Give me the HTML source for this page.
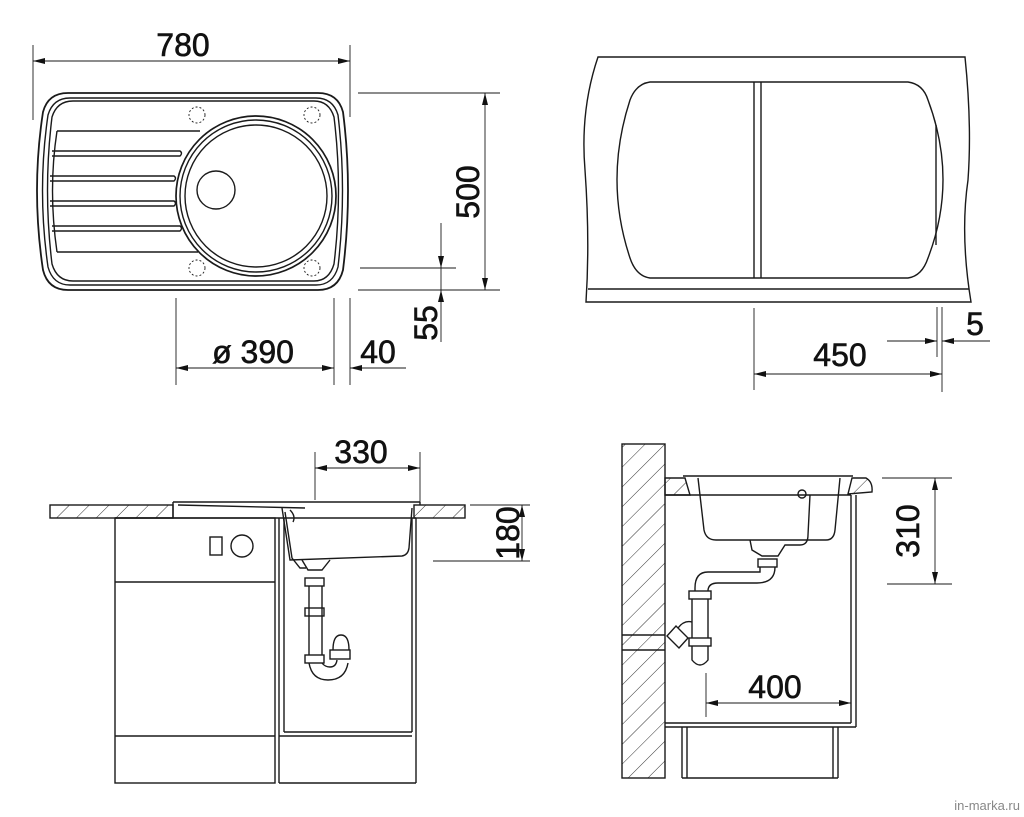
<!DOCTYPE html>
<html><head><meta charset="utf-8"><style>
html,body{margin:0;padding:0;background:#fff}
svg{display:block}
text{font-family:"Liberation Sans",Arial,sans-serif;fill:#111}
</style></head><body>
<svg width="1024" height="817" viewBox="0 0 1024 817" xmlns="http://www.w3.org/2000/svg">
<defs>
<pattern id="h" width="14" height="14" patternUnits="userSpaceOnUse" patternTransform="rotate(45)">
<line x1="0" y1="0" x2="0" y2="14" stroke="#333" stroke-width="1"/>
</pattern>
<marker id="a" markerWidth="12" markerHeight="6" refX="12" refY="3" orient="auto" markerUnits="userSpaceOnUse">
<path d="M0,0 L12,3 L0,6 Z" fill="#111"/>
</marker>
<marker id="b" markerWidth="12" markerHeight="6" refX="0" refY="3" orient="auto" markerUnits="userSpaceOnUse">
<path d="M12,0 L0,3 L12,6 Z" fill="#111"/>
</marker>
</defs>
<g fill="none" stroke="#1a1a1a" stroke-width="1.4">
<!-- ===== TOP LEFT ===== -->
<line x1="33" y1="45" x2="33" y2="120" stroke-width="0.9"/>
<line x1="350" y1="45" x2="350" y2="117" stroke-width="0.9"/>
<line x1="33" y1="61" x2="350" y2="61" stroke-width="0.9" marker-start="url(#b)" marker-end="url(#a)"/>
<path d="M68,93 L318,93 Q338,93 343,112 Q353,190 343,270 Q338,290 318,290 L68,290 Q48,290 43,270 Q31,190 43,112 Q48,93 68,93 Z" stroke-width="1.8"/>
<path d="M70,98 L316,98 Q333,98 338,115 Q347,190 338,267 Q333,285 316,285 L70,285 Q53,285 48,267 Q37,190 48,115 Q53,98 70,98 Z"/>
<path d="M73,101 L314,101 Q329,101 334,117 Q343,190 334,264 Q329,281 314,281 L73,281 Q57,281 52,264 Q43,190 52,117 Q57,101 73,101 Z"/>
<line x1="57" y1="131" x2="200" y2="131"/>
<line x1="57" y1="252" x2="198" y2="252"/>
<path d="M57,131 Q48,190 57,252"/>
<path d="M52,151 L180,151 Q183,153 180,156 L52,156"/>
<path d="M50,176 L174,176 Q177,178 174,181 L50,181"/>
<path d="M50,201 L174,201 Q177,203 174,206 L50,206"/>
<path d="M52,226 L180,226 Q183,228 180,231 L52,231"/>
<circle cx="256" cy="196" r="80" stroke-width="1.7"/>
<circle cx="256" cy="196" r="76"/>
<circle cx="256" cy="196" r="71"/>
<circle cx="216" cy="190" r="19"/>
<g stroke-dasharray="2,2" stroke-width="0.9">
<circle cx="197" cy="115" r="8"/><circle cx="312" cy="115" r="8"/>
<circle cx="197" cy="268" r="8"/><circle cx="312" cy="268" r="8"/>
</g>
<g stroke-width="0.9">
<line x1="358" y1="93" x2="500" y2="93"/>
<line x1="358" y1="290" x2="500" y2="290"/>
<line x1="485" y1="93" x2="485" y2="290" marker-start="url(#b)" marker-end="url(#a)"/>
<line x1="360" y1="268" x2="456" y2="268"/>
<line x1="441" y1="223" x2="441" y2="268" marker-end="url(#a)"/>
<line x1="441" y1="268" x2="441" y2="290"/>
<line x1="441" y1="342" x2="441" y2="290" marker-end="url(#a)"/>
<line x1="176" y1="298" x2="176" y2="385"/>
<line x1="334" y1="298" x2="334" y2="385"/>
<line x1="350" y1="298" x2="350" y2="385"/>
<line x1="176" y1="368" x2="334" y2="368" marker-start="url(#b)" marker-end="url(#a)"/>
<line x1="406" y1="368" x2="350" y2="368" marker-end="url(#a)"/>
</g>
<!-- ===== TOP RIGHT ===== -->
<path d="M598,57 L965,57 Q972,125 968,180 Q960,235 971,302 L586,302 Q590,240 585,170 Q580,110 598,57 Z" stroke-width="1.4"/>
<line x1="588" y1="289" x2="969" y2="289"/>
<path d="M650,82 L908,82 Q923,84 928,100 Q958,180 928,258 Q922,276 908,278 L650,278 Q636,276 630,258 Q604,180 630,100 Q636,84 650,82 Z"/>
<line x1="936" y1="125" x2="936" y2="245"/>
<line x1="754" y1="82" x2="754" y2="278"/>
<line x1="761" y1="82" x2="761" y2="278"/>
<g stroke-width="0.9">
<line x1="754" y1="308" x2="754" y2="390"/>
<line x1="937" y1="307" x2="937" y2="357"/>
<line x1="942" y1="307" x2="942" y2="392"/>
<line x1="754" y1="374" x2="942" y2="374" marker-start="url(#b)" marker-end="url(#a)"/>
<line x1="887" y1="341" x2="937" y2="341" marker-end="url(#a)"/>
<line x1="990" y1="341" x2="942" y2="341" marker-end="url(#a)"/>
</g>
<!-- ===== BOTTOM LEFT ===== -->
<g stroke-width="0.9">
<line x1="315" y1="452" x2="315" y2="500"/>
<line x1="420" y1="452" x2="420" y2="503"/>
<line x1="315" y1="468" x2="420" y2="468" marker-start="url(#b)" marker-end="url(#a)"/>
<line x1="470" y1="505" x2="530" y2="505"/>
<line x1="433" y1="561" x2="530" y2="561"/>
<line x1="522" y1="505" x2="522" y2="561" marker-start="url(#b)" marker-end="url(#a)"/>
</g>
<rect x="50" y="505" width="123" height="13" fill="url(#h)"/>
<rect x="414" y="505" width="51" height="13" fill="url(#h)"/>
<line x1="173" y1="502" x2="420" y2="502"/>
<line x1="173" y1="502" x2="173" y2="518"/>
<line x1="420" y1="502" x2="420" y2="505"/>
<path d="M178,505 L305,508"/>
<line x1="115" y1="518" x2="416" y2="518"/>
<rect x="115" y="518" width="160" height="265"/>
<line x1="115" y1="582" x2="275" y2="582"/>
<line x1="115" y1="736" x2="275" y2="736"/>
<rect x="210" y="537" width="12" height="18"/>
<circle cx="242" cy="546" r="11"/>
<line x1="279" y1="518" x2="279" y2="783"/>
<line x1="284" y1="518" x2="284" y2="732"/>
<line x1="412" y1="518" x2="412" y2="732"/>
<line x1="416" y1="518" x2="416" y2="783"/>
<line x1="279" y1="783" x2="416" y2="783"/>
<line x1="284" y1="732" x2="412" y2="732"/>
<line x1="279" y1="736" x2="412" y2="736"/>
<path d="M282,508 L290,560 L402,556 Q408,555 409,548 L412,508"/>
<path d="M285,512 L292,558 L300,568 L306,568"/>
<path d="M290,510 Q296,516 293,522"/>
<path d="M302,560 L308,570 L322,570 L330,560"/>
<rect x="305" y="578" width="19" height="8"/>
<rect x="305" y="608" width="19" height="8"/>
<rect x="305" y="655" width="19" height="8"/>
<line x1="309" y1="586" x2="309" y2="655"/>
<line x1="322" y1="586" x2="322" y2="655"/>
<path d="M309,663 Q312,680 328,680 Q345,680 348,663"/>
<path d="M322,663 Q325,667 330,667 Q336,667 337,660"/>
<rect x="330" y="650" width="20" height="9"/>
<path d="M333,650 Q333,635 341,635 Q349,635 349,650"/>
<!-- ===== BOTTOM RIGHT ===== -->
<rect x="622" y="444" width="43" height="334" fill="url(#h)"/>
<line x1="622" y1="635" x2="665" y2="635"/>
<line x1="622" y1="650" x2="665" y2="650"/>
<path d="M665,478 L685,478 L690,495 L665,495 Z" fill="url(#h)"/>
<path d="M852,478 L866,478 Q873,482 872,492 L848,494 Z" fill="url(#h)"/>
<line x1="683" y1="476" x2="853" y2="476"/>
<line x1="665" y1="495" x2="851" y2="495"/>
<line x1="856" y1="495" x2="856" y2="727"/>
<line x1="851" y1="495" x2="851" y2="723"/>
<line x1="665" y1="723" x2="851" y2="723"/>
<line x1="665" y1="727" x2="856" y2="727"/>
<line x1="682" y1="727" x2="682" y2="778"/>
<line x1="687" y1="727" x2="687" y2="778"/>
<line x1="833" y1="727" x2="833" y2="778"/>
<line x1="838" y1="727" x2="838" y2="778"/>
<line x1="682" y1="778" x2="838" y2="778"/>
<path d="M698,478 L704,530 Q706,540 716,540 L826,540 Q834,540 835,530 L840,478"/>
<path d="M750,540 L752,550 L762,556 L778,556 L785,545 L800,545 Q808,545 808,535 L810,495"/>
<circle cx="802" cy="494" r="4"/>
<rect x="758" y="559" width="19" height="8"/>
<path d="M760,567 L760,572 L708,572 Q695,572 695,588 L695,591"/>
<path d="M775,567 Q775,583 757,583 L718,583 Q708,583 708,591"/>
<rect x="689" y="591" width="22" height="8"/>
<rect x="689" y="638" width="22" height="8"/>
<line x1="692" y1="599" x2="692" y2="638"/>
<line x1="708" y1="599" x2="708" y2="638"/>
<path d="M692,646 L692,660 Q700,670 708,660 L708,646"/>
<path d="M667,636 L676,626 L688,638 L679,648 Z"/>
<path d="M678,628 Q684,620 692,622"/>
<g stroke-width="0.9">
<line x1="882" y1="478" x2="952" y2="478"/>
<line x1="887" y1="584" x2="952" y2="584"/>
<line x1="935" y1="478" x2="935" y2="584" marker-start="url(#b)" marker-end="url(#a)"/>
<line x1="706" y1="673" x2="706" y2="717"/>
<line x1="706" y1="703" x2="851" y2="703" marker-start="url(#b)" marker-end="url(#a)"/>
</g>
</g>
<!-- texts -->
<g font-size="32" stroke="#111" stroke-width="0.6">
<text x="183" y="56" text-anchor="middle">780</text>
<text transform="translate(479,192) rotate(-90)" text-anchor="middle">500</text>
<text transform="translate(437,323) rotate(-90)" text-anchor="middle">55</text>
<text x="253" y="363" text-anchor="middle">ø 390</text>
<text x="378" y="363" text-anchor="middle">40</text>
<text x="840" y="366" text-anchor="middle">450</text>
<text x="975" y="335" text-anchor="middle">5</text>
<text x="361" y="463" text-anchor="middle">330</text>
<text transform="translate(519,533) rotate(-90)" text-anchor="middle">180</text>
<text transform="translate(919,531) rotate(-90)" text-anchor="middle">310</text>
<text x="775" y="698" text-anchor="middle">400</text>
</g>
<text x="1020" y="810" font-size="13" text-anchor="end" style="fill:#888">in-marka.ru</text>
</svg>
</body></html>
